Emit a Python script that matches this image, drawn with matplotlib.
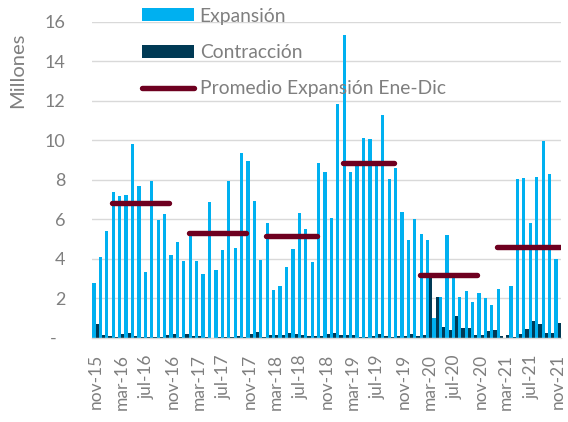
import matplotlib
matplotlib.use("Agg")
import matplotlib.pyplot as plt
import matplotlib.transforms as mtransforms
from matplotlib.lines import Line2D
from matplotlib.patches import Patch
import pandas as pd

plt.rcParams['font.family'] = ['Lato', 'DejaVu Sans']

# meses nov-15 .. nov-21
meses_es = ['ene', 'feb', 'mar', 'abr', 'may', 'jun', 'jul', 'ago', 'sep', 'oct', 'nov', 'dic']
fechas = pd.date_range('2015-11-01', '2021-11-01', freq='MS')
labels = ['%s-%02d' % (meses_es[d.month - 1], d.year % 100) for d in fechas]

expansion = [2.75, 4.10,
             5.40, 7.36, 7.19, 7.20, 9.81, 7.68, 3.33, 7.92, 5.96, 6.26, 4.19, 4.83,
             3.90, 5.18, 3.87, 3.24, 6.87, 3.43, 4.42, 7.93, 4.56, 9.34, 8.93, 6.90,
             3.92, 5.81, 2.42, 2.63, 3.58, 4.47, 6.30, 5.49, 3.83, 8.83, 8.39, 6.04,
             11.82, 15.33, 8.39, 8.70, 10.13, 10.05, 8.75, 11.28, 8.02, 8.58, 6.36, 4.93,
             5.99, 5.23, 4.95, 0.97, 2.06, 5.17, 3.04, 2.05, 2.37, 1.80, 2.25, 1.98,
             1.65, 2.45, 0.00, 2.63, 8.04, 8.09, 5.81, 8.14, 9.95, 8.29, 3.98]

contraccion = [0.68, 0.12,
               0.10, 0.05, 0.20, 0.22, 0.08, 0.05, 0.05, 0.03, 0.03, 0.12, 0.18, 0.03,
               0.20, 0.08, 0.07, 0.02, 0.00, 0.02, 0.05, 0.02, 0.07, 0.02, 0.16, 0.30,
               0.02, 0.15, 0.12, 0.12, 0.23, 0.18, 0.12, 0.07, 0.07, 0.08, 0.18, 0.22,
               0.15, 0.12, 0.12, 0.03, 0.05, 0.07, 0.17, 0.08, 0.05, 0.07, 0.08, 0.20,
               0.10, 0.12, 3.02, 2.06, 0.52, 0.40, 1.07, 0.50, 0.46, 0.14, 0.12, 0.34,
               0.37, 0.10, 0.15, 0.05, 0.18, 0.42, 0.82, 0.67, 0.24, 0.24, 0.74]

# promedio expansión por año (tramo dibujado)
prom_inicio = ['ene-16', 'ene-17', 'ene-18', 'ene-19', 'ene-20', 'ene-21']
prom_fin = ['oct-16', 'oct-17', 'sep-18', 'sep-19', 'oct-20', 'nov-21']
prom_valor = [6.84, 5.30, 5.16, 8.86, 3.17, 4.61]

yticks = [0, 2, 4, 6, 8, 10, 12, 14, 16]

c_exp = '#00b0f0'
c_con = '#003a55'
c_prom = '#6e0020'
gris = '#7f7f7f'

fig = plt.figure(figsize=(5.68, 4.22), dpi=100)
ax = fig.add_axes([0.1627, 0.2002, 0.8246, 0.7484])

x = list(range(len(labels)))
w = 0.5
ax.bar([i - w / 2 for i in x], expansion, width=w, color=c_exp, zorder=2)
ax.bar([i + w / 2 for i in x], contraccion, width=w, color=c_con, zorder=2)

for ini, fin, val in zip(prom_inicio, prom_fin, prom_valor):
    a = labels.index(ini) + 0.5
    b = labels.index(fin) + 0.45
    ax.plot([a, b], [val, val], color=c_prom, lw=3.9, solid_capstyle='round', zorder=3)

ax.set_xlim(-0.5, len(labels) - 0.5)
ax.set_ylim(0, 16)
ax.set_yticks(yticks)
ax.set_yticklabels(['-'] + [str(v) for v in yticks[1:]])
ax.set_xticks(x[::4])
ax.set_xticklabels(labels[::4], rotation=90)
ax.tick_params(axis='both', length=0, colors=gris)
ax.tick_params(axis='y', pad=19.5, labelsize=13)
ax.tick_params(axis='x', pad=12, labelsize=12.5)

# guion del cero desplazado como en formato contable
lbl0 = ax.get_yticklabels()[0]
lbl0.set_transform(lbl0.get_transform() + mtransforms.ScaledTranslation(-9 / 100, 0, fig.dpi_scale_trans))

ax.grid(axis='y', color='#d9d9d9', lw=1.0, zorder=0)
ax.set_axisbelow(True)
for s in ['top', 'right', 'left']:
    ax.spines[s].set_visible(False)
ax.spines['bottom'].set_color('#d9d9d9')
ax.spines['bottom'].set_linewidth(1.0)

fig.text(18 / 568, 1 - 70 / 422, 'Millones', rotation=90, ha='center', va='center',
         color=gris, fontsize=14.5)

handles = [Patch(facecolor=c_exp), Patch(facecolor=c_con),
           Line2D([0], [0], color=c_prom, lw=3.9, solid_capstyle='round')]
leg = fig.legend(handles, ['Expansión', 'Contracción', 'Promedio Expansión Ene-Dic'],
                 loc='upper left', bbox_to_anchor=(134 / 568, 1.0), frameon=False,
                 fontsize=13.9, handlelength=2.7, handleheight=0.66, labelspacing=1.0,
                 handletextpad=0.3, borderaxespad=0.0)
for t in leg.get_texts():
    t.set_color(gris)

fig.savefig('out.png', dpi=100)
